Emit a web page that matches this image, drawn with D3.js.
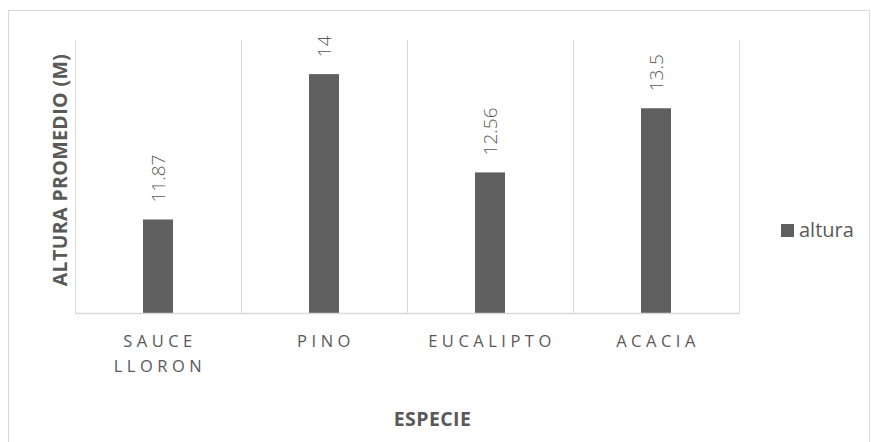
<!DOCTYPE html>
<html><head><meta charset="utf-8">
<script src="https://cdn.jsdelivr.net/npm/d3@7"></script>
<style>
html,body{margin:0;padding:0;background:#fff;}
svg{display:block;}
text{font-family:"Open Sans","Liberation Sans",sans-serif;}
</style></head>
<body><svg id="c" width="871" height="442"></svg>
<script>
const categories = ["SAUCE LLORON", "PINO", "EUCALIPTO", "ACACIA"];
const categoryLines = [["SAUCE","LLORON"], ["PINO"], ["EUCALIPTO"], ["ACACIA"]];
const alturaValues = [11.87, 14, 12.56, 13.5];
const valueLabels = ["11.87", "14", "12.56", "13.5"];
const seriesName = "altura";
const yDomain = [10.5, 14.5];
const xTitle = "ESPECIE";
const yTitle = "ALTURA PROMEDIO (M)";

const svg = d3.select("#c");
const plot = {left: 75, right: 739, top: 40, bottom: 313};
const barColor = "#5f5f5f", gridColor = "#d9d9d9", textColor = "#595959";

// chart border
svg.append("rect").attr("x", 8.5).attr("y", 10.5).attr("width", 861).attr("height", 440)
  .attr("fill", "#fff").attr("stroke", "#d9d9d9").attr("stroke-width", 1);

const x = d3.scaleBand().domain(categories).range([plot.left, plot.right]).paddingInner(0).paddingOuter(0);
const y = d3.scaleLinear().domain(yDomain).range([plot.bottom, plot.top]);

// vertical gridlines at category boundaries
const bounds = categories.map(c => x(c)).concat([x(categories[categories.length-1]) + x.bandwidth()]);
svg.append("g").selectAll("line").data(bounds).join("line")
  .attr("x1", d => Math.round(d) + 0.5).attr("x2", d => Math.round(d) + 0.5)
  .attr("y1", plot.top).attr("y2", plot.bottom)
  .attr("stroke", gridColor).attr("stroke-width", 1);

// bars
const barW = 30;
svg.append("g").selectAll("rect").data(alturaValues).join("rect")
  .attr("x", (d, i) => x(categories[i]) + x.bandwidth() / 2 - barW / 2)
  .attr("y", d => y(d))
  .attr("width", barW)
  .attr("height", d => y(yDomain[0]) - y(d))
  .attr("fill", barColor);

// x-axis baseline
svg.append("line").attr("x1", plot.left).attr("x2", plot.right + 1)
  .attr("y1", plot.bottom + 0.5).attr("y2", plot.bottom + 0.5)
  .attr("stroke", gridColor).attr("stroke-width", 1.5);

// data labels (rotated)
svg.append("g").selectAll("text").data(alturaValues).join("text")
  .attr("transform", (d, i) => `translate(${x(categories[i]) + x.bandwidth() / 2 + 7},${y(d) - 17}) rotate(-90)`)
  .attr("text-anchor", "start")
  .attr("font-size", 19).attr("font-weight", 300)
  .attr("fill", textColor)
  .text((d, i) => valueLabels[i]);

// category labels
const catG = svg.append("g");
categoryLines.forEach((lines, i) => {
  const t = catG.append("text")
    .attr("x", x(categories[i]) + x.bandwidth() / 2 + 2)
    .attr("y", 347)
    .attr("text-anchor", "middle")
    .attr("font-size", 16.5).attr("letter-spacing", "4.5px")
    .attr("fill", textColor);
  lines.forEach((l, j) => {
    t.append("tspan").attr("x", x(categories[i]) + x.bandwidth() / 2 + 2)
      .attr("dy", j === 0 ? 0 : 25).text(l);
  });
});

// axis titles
svg.append("text").attr("x", 432.5).attr("y", 426)
  .attr("text-anchor", "middle").attr("font-size", 19.5).attr("font-weight", 700)
  .attr("letter-spacing", "0.4px")
  .attr("fill", textColor).text(xTitle);
svg.append("text").attr("transform", "translate(66.5,170) rotate(-90)")
  .attr("text-anchor", "middle").attr("font-size", 19.5).attr("font-weight", 700)
  .attr("letter-spacing", "0.4px")
  .attr("fill", textColor).text(yTitle);

// legend
svg.append("rect").attr("x", 781).attr("y", 224).attr("width", 13).attr("height", 13).attr("fill", barColor);
svg.append("text").attr("x", 799).attr("y", 237).attr("font-size", 20)
  .attr("fill", textColor).text(seriesName);
</script></body></html>
